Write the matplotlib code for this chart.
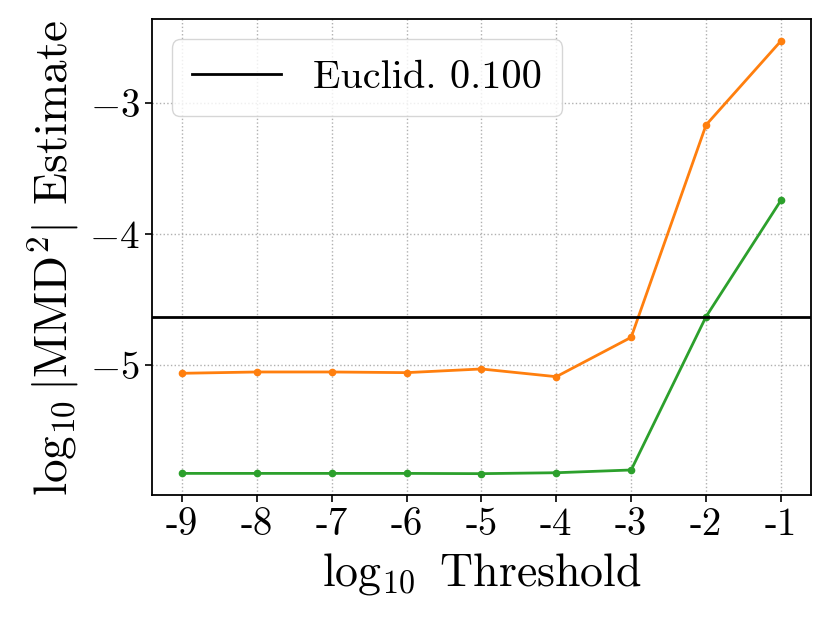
import matplotlib
matplotlib.use('Agg')
import matplotlib.pyplot as plt
import numpy as np

plt.rcParams['font.family'] = ['cmr10', 'DejaVu Serif']
plt.rcParams['mathtext.fontset'] = 'cm'
plt.rcParams['axes.formatter.use_mathtext'] = True
plt.rcParams['axes.unicode_minus'] = True

# log10 of the threshold, shown as plain string labels
thresholds = [-9, -8, -7, -6, -5, -4, -3, -2, -1]
tick_labels = ['-9', '-8', '-7', '-6', '-5', '-4', '-3', '-2', '-1']

# log10 |MMD^2| estimates
orange_vals = [-5.064, -5.054, -5.054, -5.059, -5.031, -5.090, -4.789, -3.166, -2.524]
green_vals = [-5.829, -5.829, -5.829, -5.829, -5.831, -5.824, -5.803, -4.631, -3.742]
euclid_level = -4.631
euclid_label = 'Euclid. 0.100'

fig = plt.figure(figsize=(8.3, 6.23), dpi=100)
ax = fig.add_subplot(111)
fig.subplots_adjust(left=0.183, right=0.977, top=0.969, bottom=0.205)

xpos = np.arange(len(thresholds))
ax.plot(xpos, orange_vals, color='#ff7f0e', lw=2, marker='o', ms=4.5)
ax.plot(xpos, green_vals, color='#2ca02c', lw=2, marker='o', ms=4.5)
ax.axhline(euclid_level, color='k', lw=2, label=euclid_label)

ax.set_xticks(xpos)
ax.set_xticklabels(tick_labels)
ax.set_yticks([-5, -4, -3])
ax.grid(True, linestyle=':', color='#b0b0b0', lw=1)
ax.tick_params(labelsize=28, width=1.2, length=5)
for s in ax.spines.values():
    s.set_linewidth(1.3)

ax.set_xlabel(r'$\log_{10}$ Threshold', fontsize=33, labelpad=6)
ax.set_ylabel(r'$\log_{10}|\mathrm{MMD}^2|$ Estimate', fontsize=34, labelpad=6)
ax.legend(loc='upper left', fontsize=29, handlelength=2.2, handletextpad=0.8,
          borderpad=0.5)

fig.savefig('out.png', dpi=100)
